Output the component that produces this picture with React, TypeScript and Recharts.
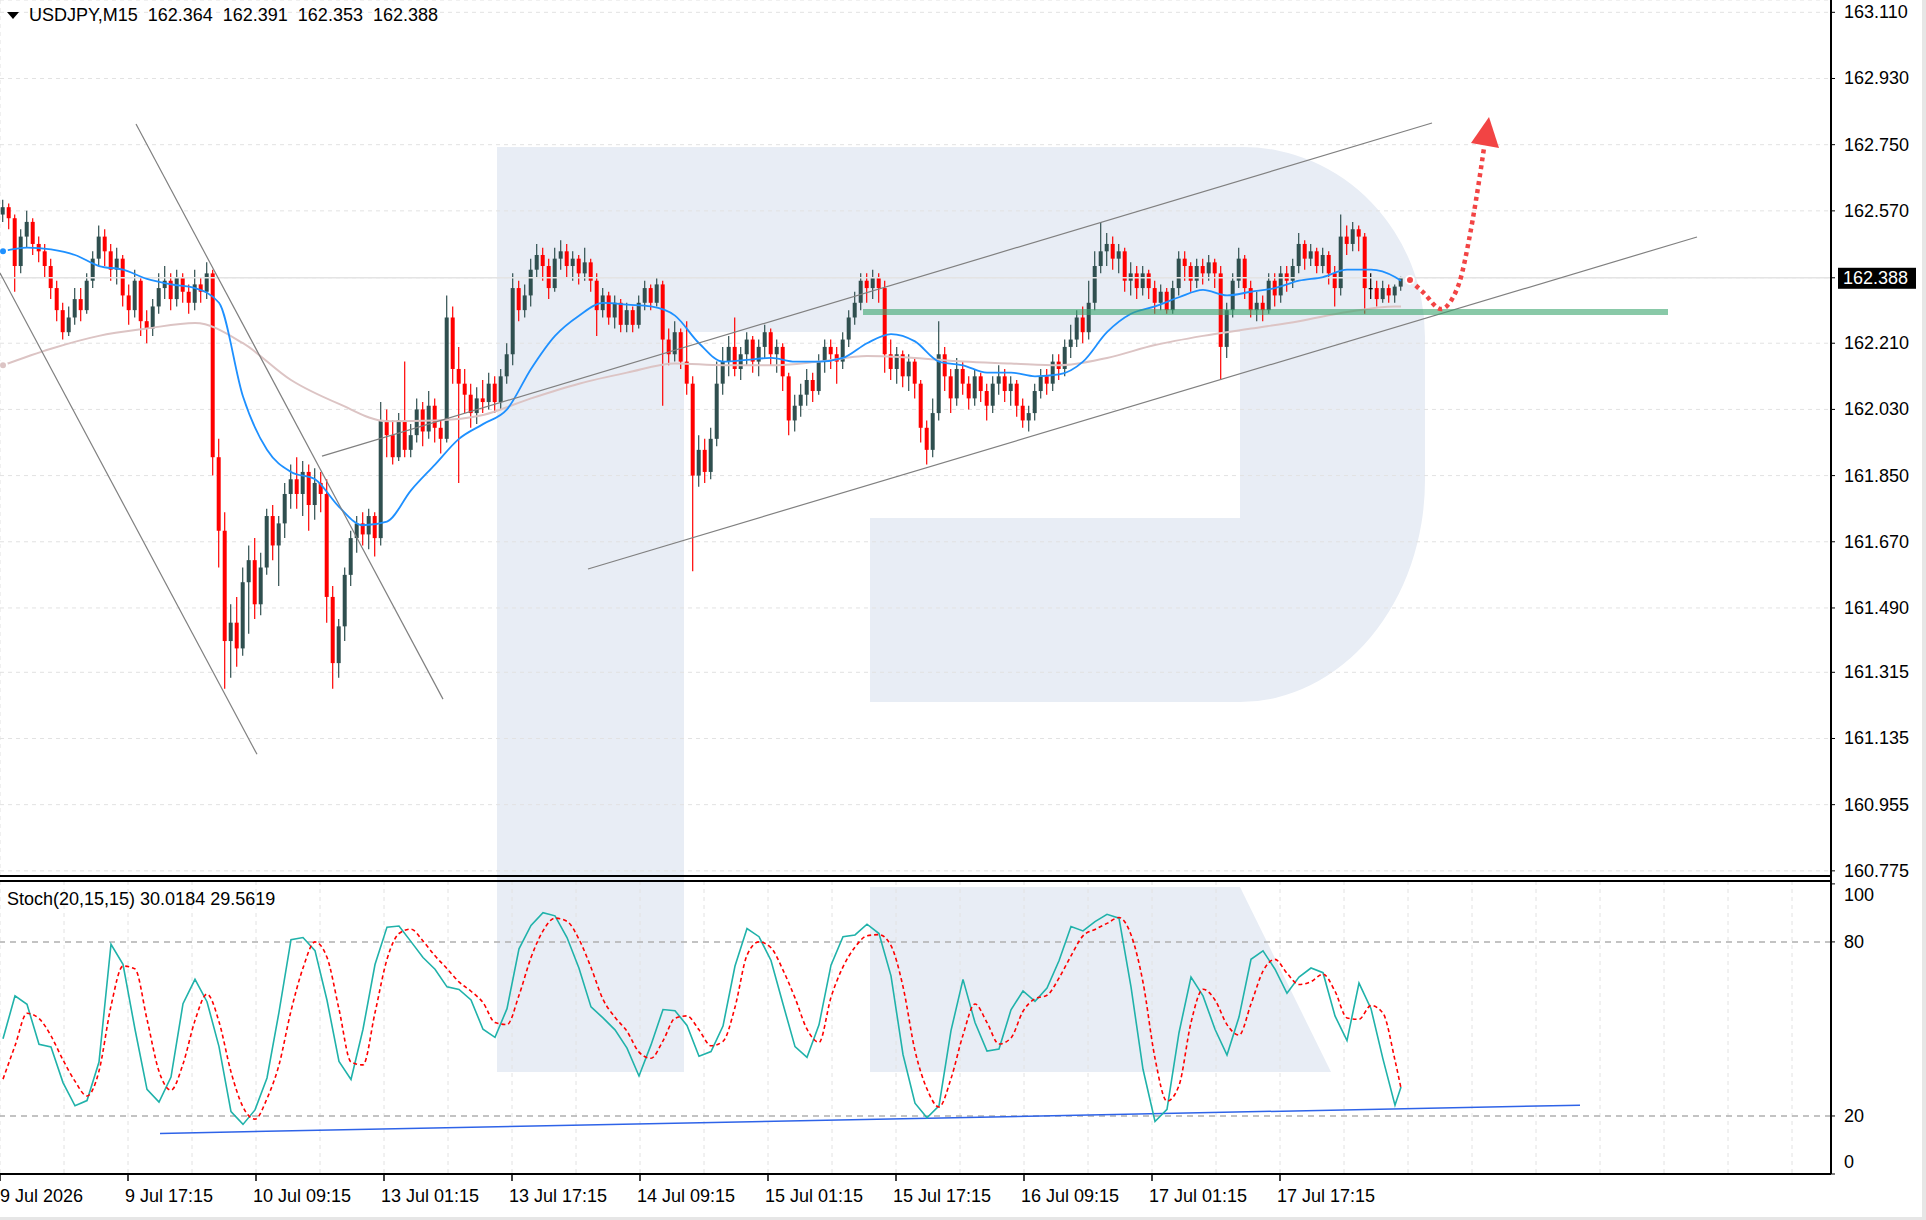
import React from "react";
import {
  ComposedChart,
  Bar,
  Line,
  XAxis,
  YAxis,
  CartesianGrid,
  ReferenceLine,
  ReferenceDot,
} from "recharts";

const FONT = "'Liberation Sans', Arial, sans-serif";
const FONT_SIZE = 18;
const PAGE_W = 1926;
const PAGE_H = 1220;
const AXIS_W = 95;
const MAIN_H = 882;
const MAIN_AXIS_H = 6;
const STOCH_TOP = 881;
const STOCH_H = PAGE_H - STOCH_TOP;
const TIME_AXIS_H = 46;

const BULL = "#2f4f4f";
const BEAR = "#ff0000";
const DOJI = "#000000";

// x is measured in M15 bars; each drawn candle stands for 3 of them
const X_DOMAIN: [number, number] = [0, 915.5];
const PRICE_DOMAIN: [number, number] = [160.761, 163.1435];
const STOCH_DOMAIN: [number, number] = [0, 101];
const BARS_PER_CANDLE = 3;
const candleX = (i: number) => BARS_PER_CANDLE * i + 1.5;

const FIRST_OPEN = 162.56;
const LAST_PRICE = 162.388;

const closes = [
  162.58, 162.55, 162.42, 162.5, 162.54, 162.48, 162.46, 162.42, 162.36, 162.3,
  162.24, 162.28, 162.33, 162.3, 162.38, 162.44, 162.5, 162.46, 162.41, 162.44,
  162.34, 162.3, 162.38, 162.27, 162.25, 162.31, 162.36, 162.38, 162.33, 162.39,
  162.35, 162.32, 162.37, 162.35, 162.4, 161.9, 161.7, 161.4, 161.45, 161.38,
  161.56, 161.62, 161.5, 161.6, 161.74, 161.66, 161.72, 161.8, 161.84, 161.8,
  161.86, 161.77, 161.83, 161.8, 161.52, 161.34, 161.44, 161.58, 161.68, 161.72,
  161.69, 161.74, 161.68, 162.0, 161.96, 161.9, 162.0, 161.92, 161.96, 162.03,
  161.97, 162.04, 161.98, 161.95, 162.28, 162.14, 162.1, 162.07, 162.02, 162.06,
  162.05, 162.1, 162.05, 162.12, 162.18, 162.36, 162.3, 162.34, 162.41, 162.45,
  162.42, 162.36, 162.44, 162.46, 162.42, 162.44, 162.4, 162.43, 162.38, 162.3,
  162.34, 162.28, 162.32, 162.26, 162.3, 162.26, 162.32, 162.36, 162.32, 162.37,
  162.22, 162.18, 162.24, 162.16, 162.1, 161.85, 161.92, 161.86, 161.95, 162.1,
  162.16, 162.2, 162.14, 162.18, 162.22, 162.16, 162.2, 162.24, 162.18, 162.2,
  162.12, 162.0, 162.04, 162.07, 162.11, 162.08, 162.16, 162.2, 162.18, 162.16,
  162.22, 162.28, 162.32, 162.38, 162.36, 162.39, 162.36, 162.18, 162.14, 162.18,
  162.12, 162.16, 162.1, 161.98, 161.92, 162.02, 162.18, 162.12, 162.06, 162.14,
  162.1, 162.06, 162.12, 162.08, 162.04, 162.1, 162.12, 162.08, 162.1, 162.04,
  162.0, 162.02, 162.08, 162.12, 162.1, 162.16, 162.14, 162.2, 162.22, 162.28,
  162.24, 162.32, 162.42, 162.46, 162.48, 162.44, 162.46, 162.38, 162.4, 162.36,
  162.4, 162.36, 162.32, 162.35, 162.3, 162.36, 162.44, 162.42, 162.38, 162.42,
  162.4, 162.43, 162.4, 162.2, 162.3, 162.38, 162.44, 162.36, 162.3, 162.32,
  162.3, 162.38, 162.34, 162.4, 162.38, 162.42, 162.48, 162.44, 162.46, 162.42,
  162.45, 162.4, 162.36, 162.5, 162.48, 162.52, 162.5, 162.36, 162.36, 162.33,
  162.36, 162.34, 162.364, 162.388,
];

const highs = [
  162.6, 162.59, 162.56, 162.52, 162.57, 162.55, 162.5, 162.48, 162.44, 162.38,
  162.32, 162.31, 162.36, 162.36, 162.4, 162.46, 162.53, 162.52, 162.48, 162.47,
  162.45, 162.37, 162.41, 162.39, 162.3, 162.33, 162.4, 162.42, 162.4, 162.41,
  162.4, 162.37, 162.41, 162.39, 162.43, 162.41, 161.95, 161.75, 161.5, 161.52,
  161.6, 161.66, 161.68, 161.64, 161.76, 161.77, 161.74, 161.83, 161.88, 161.9,
  161.89, 161.88, 161.87, 161.86, 161.84, 161.55, 161.46, 161.6, 161.7, 161.74,
  161.75, 161.76, 161.75, 162.05, 162.03, 162.0, 162.02, 162.16, 161.99, 162.06,
  162.05, 162.08, 162.06, 162.0, 162.34, 162.31, 162.2, 162.14, 162.1, 162.09,
  162.11, 162.13, 162.12, 162.14, 162.21, 162.4, 162.38, 162.37, 162.44, 162.48,
  162.47, 162.44, 162.47, 162.49, 162.48, 162.46, 162.45, 162.47, 162.44, 162.4,
  162.36, 162.35, 162.34, 162.33, 162.32, 162.31, 162.34, 162.38, 162.37, 162.39,
  162.38, 162.25, 162.27, 162.25, 162.27, 162.12, 161.96, 161.95, 161.98, 162.16,
  162.2, 162.23, 162.28, 162.2, 162.24, 162.23, 162.22, 162.26, 162.25, 162.22,
  162.21, 162.13, 162.07, 162.1, 162.14, 162.13, 162.18, 162.22, 162.22, 162.2,
  162.24, 162.3, 162.35, 162.4, 162.4, 162.41, 162.4, 162.38, 162.22, 162.2,
  162.19, 162.18, 162.17, 162.11, 162.0, 162.06, 162.27, 162.2, 162.14, 162.17,
  162.16, 162.12, 162.14, 162.13, 162.1, 162.12, 162.15, 162.14, 162.12, 162.11,
  162.06, 162.04, 162.1, 162.14, 162.14, 162.18, 162.18, 162.22, 162.26, 162.3,
  162.31, 162.38, 162.46, 162.54, 162.51, 162.5, 162.48, 162.47, 162.43, 162.42,
  162.42, 162.41, 162.38, 162.37, 162.36, 162.38, 162.46, 162.46, 162.43, 162.44,
  162.44, 162.45, 162.44, 162.42, 162.32, 162.4, 162.47, 162.45, 162.38, 162.35,
  162.34, 162.4, 162.4, 162.42, 162.42, 162.44, 162.51, 162.49, 162.48, 162.47,
  162.47, 162.46, 162.42, 162.56, 162.53, 162.54, 162.53, 162.51, 162.4, 162.38,
  162.38, 162.37, 162.37, 162.391,
];

const lows = [
  162.54, 162.52, 162.35, 162.4, 162.47, 162.45, 162.43, 162.39, 162.33, 162.27,
  162.22, 162.23, 162.26, 162.27, 162.29, 162.36, 162.42, 162.42, 162.38, 162.37,
  162.31, 162.26, 162.28, 162.23, 162.21, 162.23, 162.29, 162.33, 162.3, 162.31,
  162.32, 162.29, 162.3, 162.32, 162.33, 161.85, 161.6, 161.27, 161.3, 161.33,
  161.36, 161.42, 161.46, 161.47, 161.58, 161.62, 161.55, 161.68, 161.76, 161.76,
  161.74, 161.7, 161.73, 161.75, 161.45, 161.27, 161.3, 161.4, 161.55, 161.64,
  161.66, 161.65, 161.63, 161.66, 161.9, 161.88, 161.89, 161.9, 161.9, 161.94,
  161.93, 161.95, 161.94, 161.91, 161.94, 162.1, 161.83, 162.02, 161.98, 161.99,
  162.02, 162.03, 162.02, 162.03, 162.1, 162.15, 162.27, 162.28, 162.31, 162.39,
  162.38, 162.33, 162.35, 162.41, 162.39, 162.38, 162.37, 162.38, 162.35, 162.23,
  162.28, 162.26, 162.25, 162.24, 162.24, 162.24, 162.25, 162.3, 162.3, 162.31,
  162.04, 162.15, 162.16, 162.14, 162.07, 161.59, 161.82, 161.83, 161.84, 161.93,
  162.07, 162.12, 162.12, 162.11, 162.15, 162.13, 162.12, 162.17, 162.15, 162.13,
  162.08, 161.96, 161.97, 162.01, 162.04, 162.05, 162.07, 162.13, 162.14, 162.1,
  162.14, 162.2, 162.26, 162.3, 162.32, 162.33, 162.32, 162.13, 162.11, 162.1,
  162.09, 162.08, 162.06, 161.94, 161.88, 161.9, 162.0, 162.08, 162.02, 162.04,
  162.07, 162.03, 162.04, 162.05, 162.0, 162.02, 162.07, 162.05, 162.04, 162.01,
  161.98, 161.97, 162.0, 162.06, 162.07, 162.08, 162.11, 162.12, 162.17, 162.2,
  162.21, 162.22, 162.3, 162.4, 162.42, 162.41, 162.4, 162.35, 162.34, 162.33,
  162.34, 162.33, 162.29, 162.3, 162.29, 162.29, 162.34, 162.38, 162.35, 162.36,
  162.37, 162.38, 162.36, 162.11, 162.17, 162.28, 162.36, 162.33, 162.28, 162.27,
  162.27, 162.29, 162.31, 162.32, 162.35, 162.36, 162.4, 162.41, 162.42, 162.4,
  162.4, 162.37, 162.31, 162.34, 162.45, 162.46, 162.46, 162.29, 162.33, 162.31,
  162.32, 162.32, 162.32, 162.353,
];

// moving averages, read every 4th / 8th candle
const maFast = [
  162.46, 162.47, 162.465, 162.45, 162.42, 162.41, 162.385, 162.37, 162.36, 162.32,
  162.065, 161.92, 161.86, 161.84, 161.765, 161.715, 161.725, 161.81, 161.88, 161.95,
  161.99, 162.03, 162.14, 162.23, 162.285, 162.32, 162.315, 162.31, 162.285, 162.21,
  162.16, 162.165, 162.17, 162.16, 162.16, 162.17, 162.21, 162.235, 162.215, 162.16,
  162.15, 162.13, 162.13, 162.12, 162.125, 162.16, 162.24, 162.29, 162.31, 162.335,
  162.355, 162.34, 162.35, 162.36, 162.38, 162.39, 162.41, 162.41, 162.39, 162.38,
];
const maSlow = [
  162.15, 162.195, 162.23, 162.25, 162.265, 162.21, 162.11, 162.045, 161.998, 162.0,
  162.015, 162.06, 162.1, 162.13, 162.155, 162.15, 162.15, 162.16, 162.175, 162.17,
  162.16, 162.155, 162.15, 162.17, 162.205, 162.23, 162.25, 162.27, 162.295, 162.31,
  162.31,
];

// Stochastic (20,15,15), read every 2nd candle
const stochK = [
  46.6, 61.4, 58.5, 44.7, 43.8, 31.5, 23.5, 25.3, 38.6, 79.2,
  72.3, 49.9, 29.2, 24.8, 33.4, 58.7, 67.1, 59.4, 43.9, 21.5,
  17.1, 22.1, 33.1, 55.8, 80.8, 81.5, 77.0, 59.9, 38.8, 32.6,
  49.9, 72.2, 85.1, 85.5, 80.1, 74.6, 70.6, 64.5, 63.6, 60.0,
  49.9, 47.1, 57.0, 77.6, 85.7, 90.1, 89.0, 81.5, 70.9, 57.6,
  53.8, 49.7, 43.4, 33.8, 44.5, 56.7, 56.3, 51.2, 40.6, 42.2,
  51.0, 71.7, 84.6, 81.8, 73.6, 58.6, 43.9, 40.2, 51.4, 72.0,
  81.8, 82.4, 86.1, 82.9, 68.3, 41.2, 24.4, 19.4, 23.5, 49.4,
  67.1, 52.2, 42.4, 43.1, 56.6, 63.1, 59.5, 64.1, 73.5, 85.3,
  83.8, 87.0, 89.5, 88.2, 64.5, 36.1, 18.1, 22.3, 48.7, 67.9,
  61.4, 49.9, 41.0, 54.1, 74.0, 76.9, 70.6, 62.3, 67.9, 71.0,
  69.4, 54.5, 46.0, 65.8, 57.0, 39.6, 23.7, 30.0184,
];
const stochD = [
  32.7, 44.2, 55.4, 53.6, 47.6, 39.3, 32.0, 26.9, 35.5, 57.9,
  71.7, 70.7, 53.3, 35.4, 28.9, 37.9, 52.9, 62.0, 52.5, 35.2,
  23.1, 18.9, 26.0, 37.6, 56.2, 71.0, 80.0, 74.7, 56.8, 38.6,
  37.6, 55.6, 74.0, 82.9, 84.4, 80.3, 75.2, 70.8, 66.2, 63.0,
  59.1, 52.2, 51.5, 61.6, 74.6, 83.8, 88.2, 87.1, 80.9, 71.2,
  60.2, 54.0, 49.2, 42.0, 39.9, 45.9, 53.7, 54.5, 49.7, 44.2,
  45.7, 57.5, 75.4, 80.0, 78.0, 70.3, 60.7, 49.9, 45.4, 60.9,
  71.4, 78.2, 82.1, 82.5, 78.7, 64.6, 42.5, 29.3, 23.1, 32.9,
  47.9, 58.6, 52.2, 44.8, 46.9, 56.1, 60.4, 61.6, 67.5, 75.2,
  82.1, 84.3, 86.4, 88.4, 82.5, 66.1, 39.9, 25.1, 30.5, 52.2,
  63.7, 60.0, 51.5, 47.9, 58.6, 69.9, 74.0, 69.2, 65.3, 66.3,
  68.9, 63.0, 53.8, 53.3, 58.1, 55.4, 39.2, 29.5619,
];

const priceTicks = [
  163.11, 162.93, 162.75, 162.57, 162.21, 162.03, 161.85, 161.67, 161.49,
  161.315, 161.135, 160.955, 160.775,
];
const stochTicks = [0, 20, 80, 100];
const stochLevels = [20, 80];
const timeLabels = [
  "9 Jul 2026", "9 Jul 17:15", "10 Jul 09:15", "13 Jul 01:15", "13 Jul 17:15",
  "14 Jul 09:15", "15 Jul 01:15", "15 Jul 17:15", "16 Jul 09:15", "17 Jul 01:15",
  "17 Jul 17:15",
];
const timeTickBars = [0, 64, 128, 192, 256, 320, 384, 448, 512, 576, 640];
const gridBars = Array.from({ length: 29 }, (_, k) => k * 32);

// analyst drawings, in (bar, price)
const trendLines = [
  [{ x: 68, y: 162.806 }, { x: 221.5, y: 161.242 }],
  [{ x: 0, y: 162.401 }, { x: 128.5, y: 161.092 }],
  [{ x: 161, y: 161.903 }, { x: 716, y: 162.809 }],
  [{ x: 294, y: 161.596 }, { x: 848.5, y: 162.499 }],
];
const supportLevel = [{ x: 431.5, y: 162.295 }, { x: 834, y: 162.295 }];
const forecastBars = [705, 712, 720.5, 726, 730.5, 734.5, 738, 742];
const forecastPrices = [162.382, 162.346, 162.303, 162.33, 162.39, 162.491, 162.599, 162.741];
const arrowTip = { x: 744.5, y: 162.825 };
const stochTrend = [{ x: 80, y: 14.0 }, { x: 790, y: 23.7 }];

const LAST = closes.length - 1;
const candles = closes.map((close, i) => ({
  x: candleX(i),
  open: i === 0 ? FIRST_OPEN : closes[i - 1],
  high: highs[i],
  low: lows[i],
  close,
  range: [lows[i], highs[i]],
}));
const sampled = (values: number[], step: number) =>
  values.map((v, k) => ({ x: candleX(Math.min(k * step, LAST)), v }));
const maFastData = sampled(maFast, 4);
const maSlowData = sampled(maSlow, 8);
const stochData = stochK.map((k, j) => ({
  x: candleX(Math.min(j * 2, LAST)),
  k,
  d: stochD[j],
}));
const forecastData = forecastBars.map((x, i) => ({ x, v: forecastPrices[i] }));

function Candle(props: any) {
  const { x, y, width, height, payload } = props;
  if (payload == null || !Number.isFinite(x) || !Number.isFinite(y)) return null;
  const { open, close, high, low } = payload;
  const span = high - low;
  const py = (p: number) => (span > 0 ? y + ((high - p) / span) * height : y);
  const cx = x + width / 2;
  const color = close > open ? BULL : close < open ? BEAR : DOJI;
  const top = py(Math.max(open, close));
  const bottom = py(Math.min(open, close));
  return (
    <g>
      <line x1={cx} x2={cx} y1={y} y2={y + height} stroke={color} strokeWidth={1.2} />
      <rect x={cx - 2} y={top} width={4} height={Math.max(bottom - top, 1.2)} fill={color} />
    </g>
  );
}

function PriceTick({ x, y, payload }: any) {
  const v = payload.value;
  if (v === LAST_PRICE) {
    return (
      <g>
        <rect x={x - 6} y={y - 10} width={78} height={21} fill="#000" />
        <text x={x - 1} y={y + 6} fill="#fff" fontSize={FONT_SIZE} fontFamily={FONT}>
          {v.toFixed(3)}
        </text>
      </g>
    );
  }
  return (
    <text x={x} y={y + 6} fill="#000" fontSize={FONT_SIZE} fontFamily={FONT}>
      {v.toFixed(3)}
    </text>
  );
}

function StochTick({ x, y, payload }: any) {
  const v = payload.value;
  const dy = v === 100 ? 11 : v === 0 ? -12 : 0;
  return (
    <text x={x} y={y + dy + 6} fill="#000" fontSize={FONT_SIZE} fontFamily={FONT}>
      {v}
    </text>
  );
}

function TimeTick({ x, y, payload }: any) {
  const k = timeTickBars.indexOf(payload.value);
  if (k < 0) return <g />;
  return (
    <g>
      <line x1={x} x2={x} y1={y} y2={y + 7} stroke="#000" strokeWidth={1.5} />
      <text x={Math.max(x - 3, 0)} y={y + 28} fill="#000" fontSize={FONT_SIZE} fontFamily={FONT}>
        {timeLabels[k]}
      </text>
    </g>
  );
}

function ArrowHead({ cx, cy }: any) {
  if (!Number.isFinite(cx)) return null;
  return (
    <polygon
      points={`${cx},${cy} ${cx - 18},${cy + 26} ${cx + 10},${cy + 31}`}
      fill="#f24444"
    />
  );
}

export default function App() {
  return (
    <div
      style={{
        position: "absolute",
        left: 0,
        top: 0,
        width: PAGE_W,
        height: PAGE_H,
        background: "#fff",
        overflow: "hidden",
        fontFamily: FONT,
      }}
    >
      {/* watermark logo behind the chart */}
      <svg width={PAGE_W} height={PAGE_H} style={{ position: "absolute", left: 0, top: 0 }}>
        <path
          d="M497 147 L1243 147 A182 190 0 0 1 1425 337 L1425 480 A185 222 0 0 1 1240 702 L870 702 L870 518 L1240 518 L1240 332 L684 332 L684 1072 L497 1072 Z"
          fill="#e8edf5"
        />
        <path d="M870 887 L1240 887 L1331 1072 L870 1072 Z" fill="#e8edf5" />
        <rect x={1922} y={0} width={4} height={PAGE_H} fill="#e6e6e6" />
        <rect x={0} y={1217} width={PAGE_W} height={3} fill="#e6e6e6" />
      </svg>

      <div style={{ position: "absolute", left: 0, top: 0 }}>
        <ComposedChart
          width={PAGE_W}
          height={MAIN_H}
          data={candles}
          margin={{ top: 0, right: 0, bottom: 0, left: 0 }}
        >
          <CartesianGrid stroke="#e2e2e2" strokeDasharray="4 4" />
          <XAxis
            dataKey="x"
            type="number"
            domain={X_DOMAIN}
            ticks={gridBars}
            interval={0}
            tick={false}
            tickLine={false}
            height={MAIN_AXIS_H}
            axisLine={{ stroke: "#000", strokeWidth: 2 }}
            allowDataOverflow
          />
          <YAxis
            orientation="right"
            width={AXIS_W}
            domain={PRICE_DOMAIN}
            ticks={[...priceTicks, LAST_PRICE]}
            interval={0}
            tick={(p: any) => <PriceTick {...p} />}
            tickSize={4}
            tickMargin={9}
            tickLine={{ stroke: "#000" }}
            axisLine={{ stroke: "#000", strokeWidth: 2 }}
            allowDataOverflow
          />
          <ReferenceLine y={LAST_PRICE} stroke="#e4e4e4" strokeWidth={1.5} />
          <Bar dataKey="range" barSize={6} shape={Candle} isAnimationActive={false} />
          <Line
            data={maSlowData}
            dataKey="v"
            type="monotone"
            stroke="#dcc4c4"
            strokeWidth={2}
            dot={false}
            isAnimationActive={false}
          />
          <Line
            data={maFastData}
            dataKey="v"
            type="monotone"
            stroke="#1e90ff"
            strokeWidth={1.8}
            dot={false}
            isAnimationActive={false}
          />
          {trendLines.map((seg, i) => (
            <ReferenceLine
              key={i}
              segment={seg}
              stroke="#808080"
              strokeWidth={1.2}
              ifOverflow="visible"
            />
          ))}
          <ReferenceLine
            segment={supportLevel}
            stroke="#3aa56e"
            strokeOpacity={0.6}
            strokeWidth={6}
            ifOverflow="visible"
          />
          <Line
            data={forecastData}
            dataKey="v"
            type="monotone"
            stroke="#f24444"
            strokeWidth={4.5}
            strokeDasharray="4 4"
            dot={false}
            isAnimationActive={false}
          />
          <ReferenceDot
            x={arrowTip.x}
            y={arrowTip.y}
            r={0}
            shape={(p: any) => <ArrowHead {...p} />}
          />
        </ComposedChart>
      </div>

      <div style={{ position: "absolute", left: 0, top: STOCH_TOP }}>
        <ComposedChart
          width={PAGE_W}
          height={STOCH_H}
          data={stochData}
          margin={{ top: 0, right: 0, bottom: 0, left: 0 }}
        >
          <CartesianGrid stroke="#e2e2e2" strokeDasharray="4 4" horizontal={false} />
          <XAxis
            dataKey="x"
            type="number"
            domain={X_DOMAIN}
            ticks={gridBars}
            interval={0}
            height={TIME_AXIS_H}
            tick={(p: any) => <TimeTick {...p} />}
            tickLine={false}
            tickSize={0}
            tickMargin={0}
            axisLine={{ stroke: "#000", strokeWidth: 2 }}
            allowDataOverflow
          />
          <YAxis
            orientation="right"
            width={AXIS_W}
            domain={STOCH_DOMAIN}
            ticks={stochTicks}
            interval={0}
            tick={(p: any) => <StochTick {...p} />}
            tickSize={4}
            tickMargin={9}
            tickLine={{ stroke: "#000" }}
            axisLine={{ stroke: "#000", strokeWidth: 2 }}
            allowDataOverflow
          />
          {stochLevels.map((lv) => (
            <ReferenceLine key={lv} y={lv} stroke="#b0b0b0" strokeWidth={1.5} strokeDasharray="6 5" />
          ))}
          <ReferenceLine segment={stochTrend} stroke="#2e63e8" strokeWidth={1.5} ifOverflow="visible" />
          <Line
            dataKey="k"
            type="linear"
            stroke="#20b2aa"
            strokeWidth={1.6}
            dot={false}
            isAnimationActive={false}
          />
          <Line
            dataKey="d"
            type="monotone"
            stroke="#ff0000"
            strokeWidth={1.6}
            strokeDasharray="4 3"
            dot={false}
            isAnimationActive={false}
          />
        </ComposedChart>
      </div>

      {/* window chrome: titles and panel separator */}
      <svg
        width={PAGE_W}
        height={PAGE_H}
        style={{ position: "absolute", left: 0, top: 0, pointerEvents: "none" }}
      >
        <line x1={0} x2={1832} y1={STOCH_TOP} y2={STOCH_TOP} stroke="#000" strokeWidth={2} />
        <line x1={1831} x2={1831} y1={876} y2={STOCH_TOP} stroke="#000" strokeWidth={2} />
        <polygon points="7,12 19,12 13,19" fill="#000" />
        <text x={29} y={21} fontSize={FONT_SIZE} fontFamily={FONT} fill="#000" style={{ wordSpacing: 5 }}>
          USDJPY,M15 162.364 162.391 162.353 162.388
        </text>
        <text x={7} y={905} fontSize={FONT_SIZE} fontFamily={FONT} fill="#000">
          Stoch(20,15,15) 30.0184 29.5619
        </text>
      </svg>
    </div>
  );
}
